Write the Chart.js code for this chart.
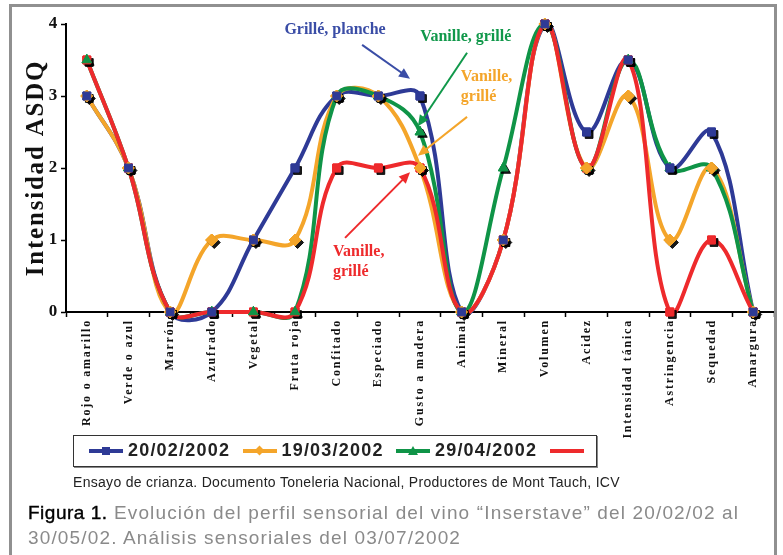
<!DOCTYPE html>
<html>
<head>
<meta charset="utf-8">
<script src="https://cdn.jsdelivr.net/npm/chart.js@4.4.1/dist/chart.umd.min.js"></script>
<style>
  html, body { margin:0; padding:0; background:#fff; }
  #wrap { position:relative; width:783px; height:555px; overflow:hidden; }
  #frame { position:absolute; left:9px; top:4px; width:768px; height:570px; box-sizing:border-box; border:3px solid #909090; }
  canvas#c { position:absolute; left:0; top:0; }
  #legend { position:absolute; left:73px; top:435px; width:524px; height:32px; box-sizing:border-box; border:1.5px solid #333; background:#fff; box-shadow:1px 1px 0 #888; }
  .item { position:absolute; top:0; height:29px; display:flex; align-items:center; }
  .sym { position:relative; width:34px; height:4px; margin-right:5px; }
  .mk { position:absolute; left:50%; top:50%; }
  .txt { font-family:"Liberation Sans", Arial, sans-serif; font-weight:bold; font-size:18px; letter-spacing:1.2px; color:#222; }
  #source { position:absolute; left:73px; top:474px; font-family:"Liberation Sans", Arial, sans-serif; font-size:14px; letter-spacing:0.3px; color:#222; white-space:nowrap; }
  #caption { position:absolute; left:28px; top:500px; width:740px; font-family:"Liberation Sans", Arial, sans-serif; font-size:19px; letter-spacing:1.15px; line-height:25px; color:#8a8a8a; }
  #caption b { color:#000; font-weight:normal; letter-spacing:0.5px; -webkit-text-stroke:0.4px #000; }
</style>
</head>
<body>
<div id="wrap">
  <canvas id="c" width="783" height="555"></canvas>
  <div id="frame"></div>
  <div id="legend"></div>
  <div id="source">Ensayo de crianza. Documento Toneleria Nacional, Productores de Mont Tauch, ICV</div>
  <div id="caption"><b>Figura 1.</b> Evolución del perfil sensorial del vino “Inserstave” del 20/02/02 al 30/05/02. Análisis sensoriales del 03/07/2002</div>
</div>
<script>
// ---- data ----
const categories = ["Rojo o amarillo","Verde o azul","Marrón","Azufrado","Vegetal","Fruta roja","Confitado","Especiado","Gusto a madera","Animal","Mineral","Volumen","Acidez","Intensidad tánica","Astringencia","Sequedad","Amargura"];
const seriesLabels = ["20/02/2002","19/03/2002","29/04/2002",""];
const s20feb = [3, 2, 0, 0, 1, 2, 3, 3, 3, 0, 1, 4, 2.5, 3.5, 2, 2.5, 0];
const s19mar = [3, 2, 0, 1, 1, 1, 3, 3, 2, 0, 1, 4, 2, 3, 1, 2, 0];
const s29apr = [3.5, 2, 0, 0, 0, 0, 3, 3, 2.5, 0, 2, 4, 2, 3.5, 2, 2, 0];
const s30may = [3.5, 2, 0, 0, 0, 0, 2, 2, 2, 0, 1, 4, 2, 3.5, 0, 1, 0];
const yTicks = [0, 1, 2, 3, 4];

const colors = ["#2E3A96", "#F4A52A", "#0F9447", "#EE2A2C"];
const markers = ["rect", "rectRot", "triangle", "rect"];
const seriesData = [s20feb, s19mar, s29apr, s30may];

// annotations (positions in data coordinates: category index, value)
const notes = [
  {color:"#3A4DA6", lines:["Grillé, planche"], x:5.96, y:3.92, align:"center", from:[6.61,3.71], to:[7.76,3.24]},
  {color:"#10984A", lines:["Vanille, grillé"], x:9.10, y:3.82, align:"center", from:[9.13,3.60], to:[7.95,2.58]},
  {color:"#F4A52A", lines:["Vanille,","grillé"], x:8.98, y:3.26, align:"left", from:[9.13,2.71], to:[7.95,2.17]},
  {color:"#EE2A2C", lines:["Vanille,","grillé"], x:5.91, y:0.83, align:"left", from:[6.20,1.03], to:[7.76,1.94]}
];

const serif = "'Liberation Serif','Times New Roman',serif";

const annotPlugin = {
  id: 'annot',
  beforeDraw(chart) { chart.ctx.letterSpacing = '1.8px'; },
  afterDatasetsDraw(chart) {
    // redraw the markers with a dark drop shadow, like the original
    const ctx = chart.ctx;
    [3, 2, 1, 0].forEach(i => {
      const meta = chart.getDatasetMeta(i);
      ctx.save();
      ctx.shadowColor = 'rgba(0,0,0,0.9)';
      ctx.shadowOffsetX = 2.5; ctx.shadowOffsetY = 2.5; ctx.shadowBlur = 0;
      meta.data.forEach(pt => pt.draw(ctx, chart.chartArea));
      ctx.restore();
    });
    [3, 2, 1, 0].forEach(i => {
      chart.getDatasetMeta(i).data.forEach(pt => pt.draw(ctx, chart.chartArea));
    });
  },
  afterDraw(chart) {
    const ctx = chart.ctx, xs = chart.scales.x, ys = chart.scales.y;
    const px = v => xs.getPixelForValue(0) + v * (xs.getPixelForValue(1) - xs.getPixelForValue(0));
    const py = v => ys.getPixelForValue(v);
    ctx.save();
    ctx.letterSpacing = '0px';
    notes.forEach(n => {
      ctx.fillStyle = n.color; ctx.strokeStyle = n.color;
      ctx.font = "bold 16px " + serif;
      ctx.textAlign = n.align; ctx.textBaseline = 'middle';
      n.lines.forEach((t, i) => ctx.fillText(t, px(n.x), py(n.y) + i * 20));
      const x1 = px(n.from[0]), y1 = py(n.from[1]), x2 = px(n.to[0]), y2 = py(n.to[1]);
      const ang = Math.atan2(y2 - y1, x2 - x1);
      ctx.lineWidth = 2;
      ctx.beginPath(); ctx.moveTo(x1, y1); ctx.lineTo(x2 - 6 * Math.cos(ang), y2 - 6 * Math.sin(ang)); ctx.stroke();
      ctx.beginPath();
      ctx.moveTo(x2, y2);
      ctx.lineTo(x2 - 11 * Math.cos(ang) + 5 * Math.sin(ang), y2 - 11 * Math.sin(ang) - 5 * Math.cos(ang));
      ctx.lineTo(x2 - 11 * Math.cos(ang) - 5 * Math.sin(ang), y2 - 11 * Math.sin(ang) + 5 * Math.cos(ang));
      ctx.closePath(); ctx.fill();
    });
    ctx.restore();
  }
};

const datasets = seriesData.map((d, i) => ({
  label: seriesLabels[i],
  data: d,
  borderColor: colors[i],
  backgroundColor: colors[i],
  borderWidth: 4,
  pointStyle: markers[i],
  pointRadius: i === 1 ? 6 : 5.5,
  pointBorderColor: colors[i],
  pointBorderWidth: 1,
  tension: 0.4,
  clip: false,
  order: 3 - i
}));

new Chart(document.getElementById('c'), {
  type: 'line',
  data: { labels: categories, datasets },
  options: {
    responsive: false,
    animation: false,
    layout: { padding: { left: 0, right: 9, top: 24, bottom: 0 } },
    elements: { line: { capBezierPoints: false } },
    plugins: { legend: { display: false }, tooltip: { enabled: false } },
    scales: {
      x: {
        offset: true,
        grid: { display: true, offset: true, drawOnChartArea: false, tickLength: 5, color: '#000', tickWidth: 1.5 },
        border: { display: true, color: '#000', width: 2 },
        ticks: { minRotation: 90, maxRotation: 90, autoSkip: false, padding: 2, color: '#111', font: { family: serif, weight: 'bold', size: 12 } },
        afterFit(s) { s.height = 555 - 312; }
      },
      y: {
        min: 0, max: 4,
        afterBuildTicks(s) { s.ticks = yTicks.map(v => ({ value: v })); },
        grid: { display: true, drawOnChartArea: false, tickLength: 5, color: '#000', tickWidth: 1.5 },
        border: { display: true, color: '#000', width: 2 },
        ticks: { padding: 2, color: '#111', font: { family: serif, weight: 'bold', size: 17 } },
        title: { display: true, text: 'Intensidad ASDQ', color: '#111', font: { family: serif, weight: 'bold', size: 25 }, padding: { top: 22, bottom: 0 } },
        afterFit(s) { s.width = 66; }
      }
    }
  },
  plugins: [annotPlugin]
});

// ---- HTML legend built from the series ----
const legend = document.getElementById('legend');
seriesLabels.forEach((lab, i) => {
  const it = document.createElement('div');
  it.className = 'item';
  it.style.left = (15 + i * 153.5) + 'px';
  const sym = document.createElement('div');
  sym.className = 'sym'; sym.style.background = colors[i];
  if (i < 3) {
    const mk = document.createElement('div'); mk.className = 'mk';
    if (i === 0) { mk.style.cssText += 'width:8px;height:8px;margin:-4px 0 0 -4px;background:' + colors[i]; }
    if (i === 1) { mk.style.cssText += 'width:7px;height:7px;margin:-3.5px 0 0 -3.5px;transform:rotate(45deg);background:' + colors[i]; }
    if (i === 2) { mk.style.cssText += 'width:0;height:0;margin:-5px 0 0 -5px;border-left:5px solid transparent;border-right:5px solid transparent;border-bottom:9px solid ' + colors[i]; }
    sym.appendChild(mk);
  }
  it.appendChild(sym);
  const t = document.createElement('span'); t.className = 'txt'; t.textContent = lab;
  it.appendChild(t);
  legend.appendChild(it);
});
</script>
</body>
</html>
